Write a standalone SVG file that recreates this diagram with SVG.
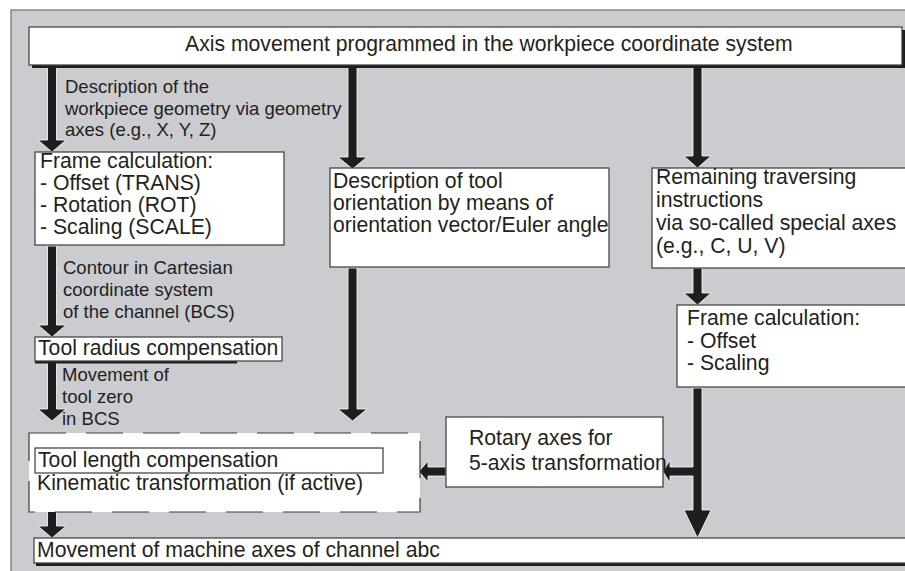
<svg xmlns="http://www.w3.org/2000/svg" width="905" height="571" viewBox="0 0 905 571">
<style>
.box{fill:#fff;stroke:#3a3a3a;stroke-width:1.2}
.sh{fill:#1e1e1e}
.t{font-family:"Liberation Sans",Arial,sans-serif;font-size:21.2px;fill:#231f20}
.l{font-family:"Liberation Sans",Arial,sans-serif;font-size:18.5px;fill:#231f20}
.arr{fill:#1e1e1e;stroke:#fff;stroke-width:0.8}
</style>
<rect x="0" y="0" width="905" height="571" fill="#fff"/>
<rect x="11" y="10" width="900" height="570" fill="#cbccd0" stroke="#6e6e70" stroke-width="1.2"/>

<g id="connectors">
  <!-- left column -->
  <path class="arr" d="M47.5,66 H56.5 V140 H66 L52,152 L38,140 H47.5 Z"/>
  <path class="arr" d="M47.5,246 H56.5 V325 H66 L52,337 L38,325 H47.5 Z"/>
  <path class="arr" d="M47.5,362 H56.5 V409 H66 L52,421 L38,409 H47.5 Z"/>
  <path class="arr" d="M47.5,502 H56.5 V526 H66 L52,538 L38,526 H47.5 Z"/>
  <!-- middle column -->
  <path class="arr" d="M348,66 H357 V157 H367 L352.5,169 L338,157 H348 Z"/>
  <path class="arr" d="M348,268 H357 V409 H367 L352.5,421 L338,409 H348 Z"/>
  <!-- right column -->
  <path class="arr" d="M693,66 H702 V156 H711 L697.5,168 L684,156 H693 Z"/>
  <path class="arr" d="M693,268 H702 V293 H711 L697.5,305 L684,293 H693 Z"/>
  <path class="arr" d="M693,388 H702 V510 H711 L697.5,538 L684,510 H693 V476 H670 V483 L663,471.5 L670,460 V467 H693 Z"/>
  <!-- rotary to dashed box -->
  <path class="arr" d="M446,467 V476 H428 V482 L419,471.5 L428,461 V467 Z"/>
</g>

<g id="n-top">
  <rect class="sh" x="32" y="30" width="873" height="38"/>
  <rect class="box" x="29" y="27" width="873" height="38"/>
  <text class="t" x="185" y="51">Axis movement programmed in the workpiece coordinate system</text>
</g>

<g id="lbl-geom">
  <text class="l" x="65" y="93">Description of the</text>
  <text class="l" x="65" y="115">workpiece geometry via geometry</text>
  <text class="l" x="65" y="136">axes (e.g., X, Y, Z)</text>
</g>

<g id="n-frame1">
  <rect class="box" x="35" y="152" width="249" height="93"/>
  <text class="t" x="40" y="168">Frame calculation:</text>
  <text class="t" x="40" y="190">- Offset (TRANS)</text>
  <text class="t" x="40" y="212">- Rotation (ROT)</text>
  <text class="t" x="40" y="234">- Scaling (SCALE)</text>
</g>

<g id="n-orient">
  <rect class="box" x="330" y="168" width="279" height="99"/>
  <text class="t" x="333" y="188">Description of tool</text>
  <text class="t" x="333" y="210">orientation by means of</text>
  <text class="t" x="333" y="232">orientation vector/Euler angle</text>
</g>

<g id="n-remaining">
  <rect class="box" x="652" y="168" width="260" height="100"/>
  <text class="t" x="656" y="184">Remaining traversing</text>
  <text class="t" x="656" y="207">instructions</text>
  <text class="t" x="656" y="230">via so-called special axes</text>
  <text class="t" x="656" y="253">(e.g., C, U, V)</text>
</g>

<g id="lbl-contour">
  <text class="l" x="63" y="274">Contour in Cartesian</text>
  <text class="l" x="63" y="296">coordinate system</text>
  <text class="l" x="63" y="318">of the channel (BCS)</text>
</g>

<g id="n-frame2">
  <rect class="box" x="677" y="305" width="235" height="82"/>
  <text class="t" x="687" y="325">Frame calculation:</text>
  <text class="t" x="687" y="348">- Offset</text>
  <text class="t" x="687" y="370">- Scaling</text>
</g>

<g id="n-radius">
  <rect class="sh" x="35" y="360" width="202" height="3.5"/>
  <rect class="box" x="35" y="337" width="247" height="24"/>
  <text class="t" x="38" y="355">Tool radius compensation</text>
</g>

<g id="lbl-toolzero">
  <text class="l" x="62" y="381">Movement of</text>
  <text class="l" x="62" y="403">tool zero</text>
  <text class="l" x="62" y="425">in BCS</text>
</g>

<g id="n-rotary">
  <rect class="box" x="446" y="417" width="217" height="70"/>
  <text class="t" x="469" y="445">Rotary axes for</text>
  <text class="t" x="469" y="470">5-axis transformation</text>
</g>

<g id="n-kinematic">
  <rect x="29" y="433" width="391" height="79" fill="#fff" stroke="#3a3a3a" stroke-width="1.2" stroke-dasharray="37 20"/>
  <rect class="box" x="35" y="448" width="348" height="25"/>
  <text class="t" x="38" y="467">Tool length compensation</text>
  <text class="t" x="37" y="490">Kinematic transformation (if active)</text>
</g>

<g id="n-machine">
  <rect class="sh" x="36" y="541" width="875" height="25"/>
  <rect class="box" x="34" y="538" width="875" height="25"/>
  <text class="t" x="37" y="557">Movement of machine axes of channel abc</text>
</g>
</svg>
